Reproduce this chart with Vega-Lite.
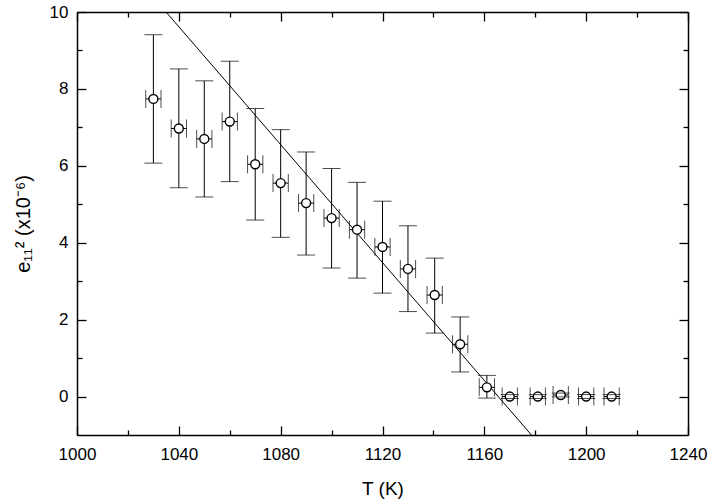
{
  "$schema": "https://vega.github.io/schema/vega-lite/v6.json",
  "width": 611,
  "height": 423,
  "autosize": {"type": "none"},
  "padding": {"left": 77, "top": 12, "right": 21, "bottom": 69},
  "background": "white",
  "config": {
    "view": {"stroke": null},
    "axis": {
      "grid": false,
      "domainColor": "black",
      "domainWidth": 1.5,
      "tickColor": "black",
      "tickWidth": 1.3,
      "labelColor": "black",
      "labelFont": "Liberation Sans",
      "labelFontSize": 17,
      "titleFont": "Liberation Sans",
      "titleFontSize": 19,
      "titleFontWeight": "normal",
      "titleColor": "black"
    }
  },
  "datasets": {
    "pts": [
      {"T": 1030, "v": 7.74, "lo": 6.07, "hi": 9.41, "tlo": 1027, "thi": 1033},
      {"T": 1040, "v": 6.97, "lo": 5.43, "hi": 8.52, "tlo": 1037, "thi": 1043},
      {"T": 1050, "v": 6.70, "lo": 5.19, "hi": 8.21, "tlo": 1047, "thi": 1053},
      {"T": 1060, "v": 7.15, "lo": 5.59, "hi": 8.72, "tlo": 1057, "thi": 1063},
      {"T": 1070, "v": 6.04, "lo": 4.59, "hi": 7.49, "tlo": 1067, "thi": 1073},
      {"T": 1080, "v": 5.55, "lo": 4.14, "hi": 6.94, "tlo": 1077, "thi": 1083},
      {"T": 1090, "v": 5.03, "lo": 3.68, "hi": 6.36, "tlo": 1087, "thi": 1093},
      {"T": 1100, "v": 4.64, "lo": 3.34, "hi": 5.93, "tlo": 1097, "thi": 1103},
      {"T": 1110, "v": 4.34, "lo": 3.08, "hi": 5.57, "tlo": 1107, "thi": 1113},
      {"T": 1120, "v": 3.89, "lo": 2.69, "hi": 5.08, "tlo": 1117, "thi": 1123},
      {"T": 1130, "v": 3.32, "lo": 2.21, "hi": 4.44, "tlo": 1127, "thi": 1133},
      {"T": 1140.5, "v": 2.64, "lo": 1.65, "hi": 3.60, "tlo": 1137.5, "thi": 1143.5},
      {"T": 1150.5, "v": 1.36, "lo": 0.64, "hi": 2.07, "tlo": 1147.5, "thi": 1153.5},
      {"T": 1161, "v": 0.24, "lo": -0.04, "hi": 0.55, "tlo": 1158, "thi": 1164},
      {"T": 1170, "v": 0.0, "lo": -0.05, "hi": 0.05, "tlo": 1167, "thi": 1173},
      {"T": 1181, "v": 0.0, "lo": -0.05, "hi": 0.05, "tlo": 1178, "thi": 1184},
      {"T": 1190, "v": 0.04, "lo": -0.01, "hi": 0.09, "tlo": 1187, "thi": 1193},
      {"T": 1200, "v": 0.0, "lo": -0.05, "hi": 0.05, "tlo": 1197, "thi": 1203},
      {"T": 1210, "v": 0.0, "lo": -0.05, "hi": 0.05, "tlo": 1207, "thi": 1213}
    ],
    "fit": [
      {"T": 1035, "v": 10},
      {"T": 1178.5, "v": -1}
    ]
  },
  "resolve": {"axis": {"x": "independent", "y": "independent"}},
  "layer": [
    {
      "data": {"name": "fit"},
      "mark": {"type": "line", "color": "black", "strokeWidth": 1, "clip": true},
      "encoding": {
        "x": {
          "field": "T", "type": "quantitative",
          "scale": {"domain": [1000, 1240], "nice": false, "zero": false},
          "axis": {
            "orient": "bottom",
            "title": "T (K)",
            "titlePadding": 13,
            "values": [1000, 1020, 1040, 1060, 1080, 1100, 1120, 1140, 1160, 1180, 1200, 1220, 1240],
            "labelExpr": "datum.value % 40 === 0 ? datum.label : ''",
            "format": "d",
            "tickSize": {"condition": {"test": "datum.value % 40 === 0", "value": -9}, "value": -5},
            "labelPadding": 20,
            "labelFlush": false,
            "labelOverlap": false
          }
        },
        "y": {
          "field": "v", "type": "quantitative",
          "scale": {"domain": [-1, 10], "nice": false, "zero": false},
          "axis": {
            "orient": "left",
            "title": "e₁₁² (x10⁻⁶)",
            "titleFontSize": 20,
            "titlePadding": 16,
            "values": [0, 1, 2, 3, 4, 5, 6, 7, 8, 9, 10],
            "labelExpr": "datum.value % 2 === 0 ? datum.label : ''",
            "tickSize": {"condition": {"test": "datum.value % 2 === 0", "value": -9}, "value": -5},
            "labelPadding": 18,
            "labelFlush": false,
            "labelOverlap": false
          }
        }
      }
    },
    {
      "data": {"name": "pts"},
      "mark": {"type": "rule", "color": "black", "strokeWidth": 1},
      "encoding": {
        "x": {
          "field": "T", "type": "quantitative",
          "axis": {
            "orient": "top",
            "title": null,
            "labels": false,
            "values": [1000, 1020, 1040, 1060, 1080, 1100, 1120, 1140, 1160, 1180, 1200, 1220, 1240],
            "tickSize": {"condition": {"test": "datum.value % 40 === 0", "value": -9}, "value": -5}
          }
        },
        "y": {
          "field": "lo", "type": "quantitative",
          "axis": {
            "orient": "right",
            "title": null,
            "labels": false,
            "values": [0, 1, 2, 3, 4, 5, 6, 7, 8, 9, 10],
            "tickSize": {"condition": {"test": "datum.value % 2 === 0", "value": -9}, "value": -5}
          }
        },
        "y2": {"field": "hi"}
      }
    },
    {
      "data": {"name": "pts"},
      "mark": {"type": "rule", "color": "black", "strokeWidth": 1},
      "encoding": {
        "x": {"field": "tlo", "type": "quantitative", "axis": null},
        "x2": {"field": "thi"},
        "y": {"field": "v", "type": "quantitative", "axis": null}
      }
    },
    {
      "data": {"name": "pts"},
      "mark": {"type": "point", "shape": "circle", "filled": false, "fill": "white", "stroke": "black", "strokeWidth": 1.4, "size": 80, "opacity": 1},
      "encoding": {
        "x": {"field": "T", "type": "quantitative", "axis": null},
        "y": {"field": "v", "type": "quantitative", "axis": null}
      }
    },
    {
      "data": {"name": "pts"},
      "mark": {"type": "tick", "orient": "horizontal", "color": "black", "thickness": 1, "size": 18},
      "encoding": {
        "x": {"field": "T", "type": "quantitative", "axis": null},
        "y": {"field": "hi", "type": "quantitative", "axis": null}
      }
    },
    {
      "data": {"name": "pts"},
      "mark": {"type": "tick", "orient": "horizontal", "color": "black", "thickness": 1, "size": 18},
      "encoding": {
        "x": {"field": "T", "type": "quantitative", "axis": null},
        "y": {"field": "lo", "type": "quantitative", "axis": null}
      }
    },
    {
      "data": {"name": "pts"},
      "mark": {"type": "tick", "orient": "vertical", "color": "black", "thickness": 1, "size": 18},
      "encoding": {
        "x": {"field": "tlo", "type": "quantitative", "axis": null},
        "y": {"field": "v", "type": "quantitative", "axis": null}
      }
    },
    {
      "data": {"name": "pts"},
      "mark": {"type": "tick", "orient": "vertical", "color": "black", "thickness": 1, "size": 18},
      "encoding": {
        "x": {"field": "thi", "type": "quantitative", "axis": null},
        "y": {"field": "v", "type": "quantitative", "axis": null}
      }
    }
  ]
}
